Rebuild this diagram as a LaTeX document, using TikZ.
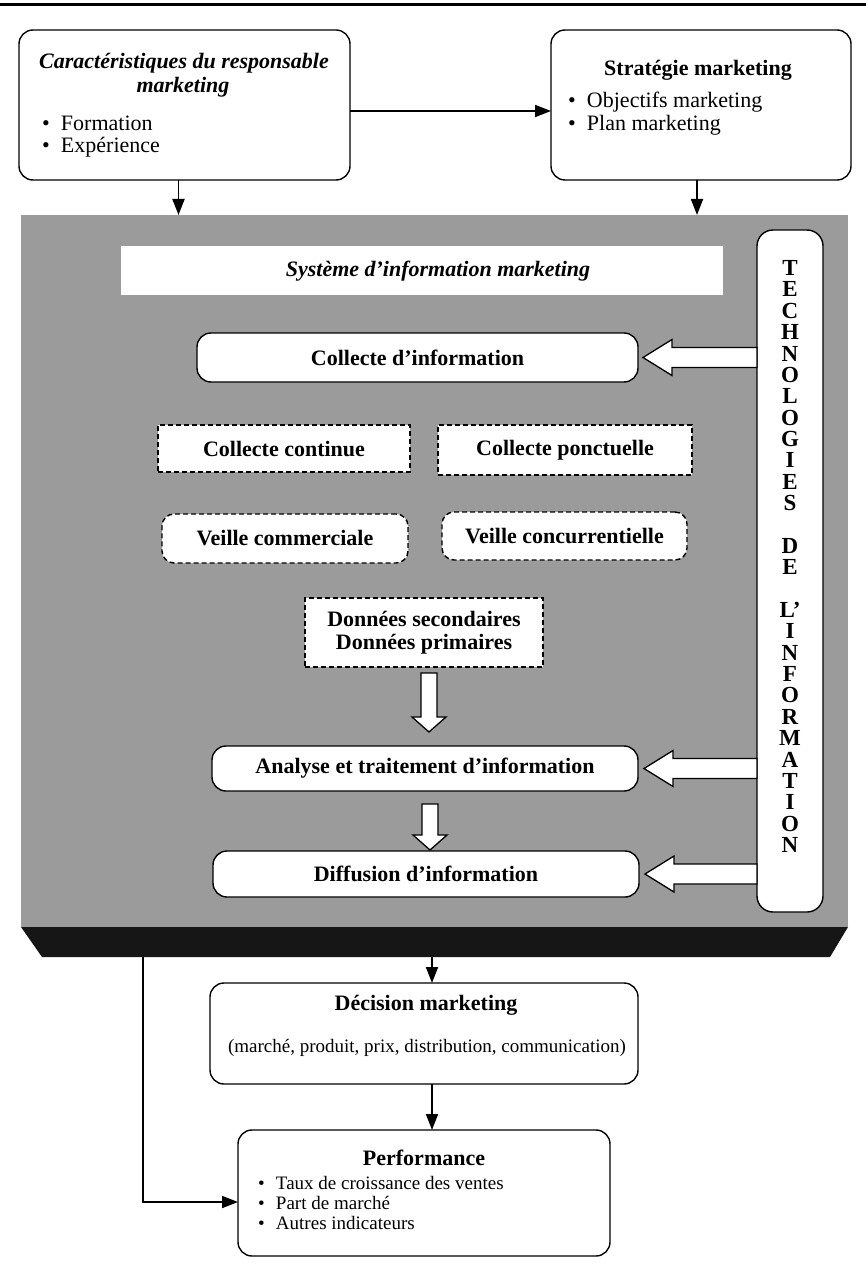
\documentclass[tikz,border=0pt]{standalone}
\usepackage{fontspec}
\setmainfont{Liberation Serif}
\usetikzlibrary{calc,arrows.meta}
\definecolor{sisgray}{RGB}{155,155,155}
\definecolor{sisdark}{RGB}{22,22,22}
\newcommand\sisarrowleft[2]{\draw[hollow] let \p1=(#1), \p2=(#2) in
  (\x1,\y2+10pt) -- (\x2+29pt,\y2+10pt) -- (\x2+29pt,\y2+18pt) -- (\x2,\y2)
  -- (\x2+29pt,\y2-18pt) -- (\x2+29pt,\y2-10pt) -- (\x1,\y2-10pt) -- cycle;}
\newcommand\sisarrowdown[2]{\draw[hollow] let \p1=(#1), \p2=(#2) in
  (\x1-8pt,\y1) -- (\x1-8pt,\y2+15pt) -- (\x1-17pt,\y2+15pt) -- (\x1,\y2)
  -- (\x1+17pt,\y2+15pt) -- (\x1+8pt,\y2+15pt) -- (\x1+8pt,\y1) -- cycle;}
\begin{document}
\begin{tikzpicture}[x=1pt,y=-1pt,
  every node/.style={inner sep=0pt, outer sep=0pt},
  rbox/.style={draw, line width=1.4pt, rounded corners=14pt, fill=white, font=\fontsize{22}{26}\selectfont\bfseries},
  dbox/.style={draw, line width=1.4pt, dash pattern=on 5pt off 3pt, fill=white, font=\fontsize{22}{23}\selectfont\bfseries, align=center},
  conn/.style={line width=1.8pt, -{Triangle[length=16pt,width=12pt]}},
  hollow/.style={draw, line width=1.3pt, fill=white, line join=miter},
  ttl/.style={font=\fontsize{22}{26}\selectfont\bfseries},
  ittl/.style={font=\fontsize{22}{26}\selectfont\bfseries\itshape},
  item/.style={anchor=west, font=\fontsize{22}{26}\selectfont},
  sitem/.style={anchor=west, font=\fontsize{19}{22}\selectfont},
  letters/.style={font=\fontsize{23}{21.37}\selectfont\bfseries, align=center}
]
\useasboundingbox (0,0) rectangle (866,1273);
\fill[white] (0,0) rectangle (866,1273);
\draw[line width=3pt] (0,5) -- (866,5);

% top boxes
\node[rbox, minimum width=331pt, minimum height=150pt] (car) at (184.5,105) {};
\node[ittl] (car1) at (184,63) {Caractéristiques du responsable};
\node[ittl] (car2) at (183,87) {marketing};
\node[item] (car3) at (42,123) {\makebox[19pt][l]{\textbullet}Formation};
\node[item] (car4) at (42,147) {\makebox[19pt][l]{\textbullet}Expérience};

\node[rbox, minimum width=300pt, minimum height=150pt] (strat) at (701,105) {};
\node[ttl] (strat1) at (698,70) {Stratégie marketing};
\node[item] (strat2) at (568,102) {\makebox[19pt][l]{\textbullet}Objectifs marketing};
\node[item] (strat3) at (568,125) {\makebox[19pt][l]{\textbullet}Plan marketing};

\draw[conn] ([yshift=-6pt]car.east) -- ([yshift=-6pt]strat.west);

% information system area
\node[fill=sisgray, minimum width=827pt, minimum height=712pt] (sis) at (434.5,571) {};
\coordinate (bandL) at (42,957);
\coordinate (bandR) at (830,957);
\fill[sisdark] (sis.south west) -- (sis.south east) -- (bandR) -- (bandL) -- cycle;
\coordinate (bandleft) at (143,957);
\coordinate (bandmid) at (432,957);

\draw[conn] ([xshift=-6pt]car.south) -- ([xshift=-6pt]car.south |- sis.north);
\draw[conn] ([xshift=-4pt]strat.south) -- ([xshift=-4pt]strat.south |- sis.north);

\node[fill=white, minimum width=602pt, minimum height=49pt] (sbar) at (422,270.5) {};
\node[ittl] (stitle) at (438,271) {Système d'information marketing};

\node[rbox, minimum width=441pt, minimum height=49pt] (col) at (417.5,357.5) {Collecte d'information};

\node[dbox, minimum width=252pt, minimum height=47pt] (cc) at (284,448.5) {Collecte continue};
\node[dbox, minimum width=254pt, minimum height=50pt] (cp) at (565,450) {Collecte ponctuelle};
\node[dbox, rounded corners=12pt, minimum width=246pt, minimum height=49pt] (vcom) at (285,538.5) {Veille commerciale};
\node[dbox, rounded corners=12pt, minimum width=245pt, minimum height=48pt] (vcon) at (564.5,536) {Veille concurrentielle};
\node[dbox, minimum width=238pt, minimum height=69pt] (don) at (424,632.5) {Données secondaires\\Données primaires};

\node[rbox, minimum width=426pt, minimum height=45pt] (ana) at (425,768.5) {Analyse et traitement d'information};
\node[rbox, minimum width=426pt, minimum height=46pt] (dif) at (426,874) {Diffusion d'information};

\sisarrowdown{$(don.south)+(5,6)$}{$(ana.north)+(5,-14)$}
\sisarrowdown{$(ana.south)+(5,13)$}{$(dif.north)+(5,-1)$}

\node[draw, line width=1.4pt, rounded corners=16pt, fill=white, minimum width=66pt, minimum height=682pt] (tech) at (790,571) {};

\sisarrowleft{tech.west |- col.east}{$(col.east)+(5,0)$}
\sisarrowleft{tech.west |- ana.east}{$(ana.east)+(6,0)$}
\sisarrowleft{tech.west |- dif.east}{$(dif.east)+(6,0)$}

\node[letters] (techtxt) at (790,556.5) {T\\E\\C\\H\\N\\O\\L\\O\\G\\I\\E\\S\\\mbox{}\\D\\E\\\mbox{}\\L'\\I\\N\\F\\O\\R\\M\\A\\T\\I\\O\\N};

% decision and performance
\node[rbox, minimum width=428pt, minimum height=101pt] (dec) at (424,1033.5) {};
\node[ttl] (dect) at (426,1005) {Décision marketing};
\node[font=\fontsize{19}{22}\selectfont] (decs) at (427,1048) {(marché, produit, prix, distribution, communication)};

\node[rbox, minimum width=372pt, minimum height=126pt] (perf) at (424,1193) {};
\node[ttl] (perft) at (424,1158) {Performance};
\node[sitem] (perf1) at (258,1183) {\makebox[18pt][l]{\textbullet}Taux de croissance des ventes};
\node[sitem] (perf2) at (258,1203) {\makebox[18pt][l]{\textbullet}Part de marché};
\node[sitem] (perf3) at (258,1223) {\makebox[18pt][l]{\textbullet}Autres indicateurs};

\draw[conn] (bandmid) -- (bandmid |- dec.north);
\draw[conn] (bandmid |- dec.south) -- (bandmid |- perf.north);
\draw[conn] (bandleft) |- ([yshift=-9pt]perf.west);
\end{tikzpicture}
\end{document}
